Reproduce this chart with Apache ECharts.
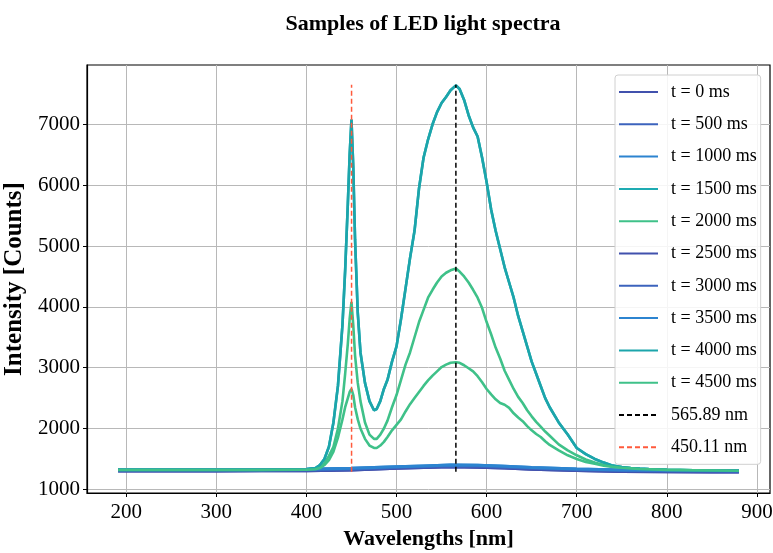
<!DOCTYPE html>
<html><head><meta charset="utf-8">
<script src="https://cdn.jsdelivr.net/npm/echarts@6/dist/echarts.min.js"></script>
<style>html,body{margin:0;padding:0;background:#fff}#c{width:773px;height:553px}</style>
</head><body><div id="c"></div>
<script>
// Wavelength grid (nm) for the emission curves
const wavelengths = [191,200,250,300,350,400,410,415,420,425,
  430,435,440,443,446,448,450,452,454,457,
  460,465,470,475,478,482,486,490,495,500,
  505,510,515,520,525,530,535,540,545,550,
  555,560,566,570,575,580,585,590,595,600,
  605,610,615,620,625,630,635,640,645,650,
  655,660,665,670,680,690,700,710,720,730,
  740,750,760,770,780,800,830,860,880];
// Strong (teal) spectrum
const tealPeak = [1320,1320,1320,1320,1320,1330,1350,1400,1500,1700,
  2100,2700,3700,4600,5700,6500,7080,6300,5100,3900,
  3250,2750,2450,2300,2320,2450,2650,2800,3100,3350,
  3800,4300,4800,5250,5950,6450,6750,7000,7200,7350,
  7450,7560,7640,7580,7400,7150,6950,6800,6450,6050,
  5600,5250,4950,4650,4400,4150,3850,3600,3350,3100,
  2900,2700,2500,2350,2100,1900,1680,1580,1500,1440,
  1390,1365,1350,1340,1332,1322,1315,1310,1305];
// Medium (green) spectrum
const greenMid = [1320,1320,1320,1320,1320,1325,1340,1370,1430,1550,
  1700,2000,2450,2900,3400,3800,4080,3700,3200,2750,
  2450,2100,1900,1830,1830,1900,2000,2130,2350,2550,
  2800,3050,3250,3500,3750,3950,4150,4280,4400,4500,
  4560,4600,4630,4580,4500,4400,4280,4150,3980,3750,
  3550,3330,3150,2950,2800,2650,2520,2420,2300,2200,
  2110,2030,1950,1880,1740,1640,1560,1490,1440,1400,
  1380,1360,1345,1335,1330,1320,1315,1310,1305];
// Weak (green) spectrum
const greenLow = [1320,1320,1320,1320,1320,1322,1330,1350,1400,1480,
  1620,1850,2150,2350,2500,2600,2650,2550,2350,2150,
  2000,1830,1720,1680,1680,1720,1780,1860,1970,2060,
  2150,2280,2400,2500,2600,2700,2790,2870,2940,3010,
  3050,3080,3090,3080,3040,2990,2940,2860,2760,2650,
  2560,2480,2420,2390,2340,2250,2180,2120,2040,1970,
  1910,1860,1790,1730,1640,1560,1500,1450,1420,1390,
  1370,1355,1345,1335,1330,1320,1315,1310,1305];
// Dark (blue) spectra
const blueWl = [191,250,300,350,400,450,500,530,560,590,620,650,700,750,800,850,880];
const blueA = [1300,1300,1300,1305,1305,1320,1345,1360,1370,1365,1350,1330,1310,1295,1290,1285,1285];
const blueB = [1312,1312,1312,1315,1318,1332,1358,1372,1385,1380,1365,1345,1322,1308,1302,1298,1298];
const blueC = [1325,1325,1325,1328,1330,1345,1370,1385,1400,1395,1380,1360,1335,1320,1312,1308,1305];

const seriesNames = ['t = 0 ms','t = 500 ms','t = 1000 ms','t = 1500 ms','t = 2000 ms',
  't = 2500 ms','t = 3000 ms','t = 3500 ms','t = 4000 ms','t = 4500 ms'];
const peakNames = ['565.89 nm','450.11 nm'];
const peakPositions = [565.89, 450.11];
const peakSpan = [1290, 7650];
const xTicks = [200,300,400,500,600,700,800,900];
const yTicks = [1000,2000,3000,4000,5000,6000,7000];

const colors = ['#4151ad','#3c63bd','#2c84d0','#1eabb2','#3fc189',
                '#4151ad','#3c63bd','#2c84d0','#1ca5ab','#3fc189'];
const seriesData = [
  [blueWl, blueA],[blueWl, blueB],[blueWl, blueC],[wavelengths, tealPeak],[wavelengths, greenMid],
  [blueWl, blueA],[blueWl, blueB],[blueWl, blueC],[wavelengths, tealPeak],[wavelengths, greenLow]
];
const FONT = 'Liberation Serif';

const series = seriesNames.map((n, i) => ({
  name: n, type: 'line', symbol: 'none', showSymbol: false,
  data: seriesData[i][0].map((w, k) => [w, seriesData[i][1][k]]),
  lineStyle: { color: colors[i], width: (i % 5 < 3) ? 3 : 2.6 },
  itemStyle: { color: colors[i] },
  z: 2
}));
const peakColors = ['#000000', '#ff5a3c'];
peakNames.forEach((n, i) => {
  series.push({
    name: n, type: 'line', symbol: 'none', showSymbol: false,
    data: peakSpan.map(v => [peakPositions[i], v]),
    lineStyle: { color: peakColors[i], width: 1.5, type: [5, 3] },
    itemStyle: { color: peakColors[i] },
    z: 3
  });
});

const chart = echarts.init(document.getElementById('c'), null, { renderer: 'canvas' });
chart.setOption({
  animation: false,
  backgroundColor: '#fff',
  title: {
    text: 'Samples of LED light spectra', left: 418, top: 8, textAlign: 'center',
    textStyle: { fontFamily: FONT, fontWeight: 'bold', fontSize: 22, color: '#000' }
  },
  grid: { left: 87, right: 3, top: 65, bottom: 60, containLabel: false, outerBoundsMode: 'none',
    show: true, borderColor: '#000', borderWidth: 1.2, backgroundColor: 'transparent' },
  legend: {
    data: seriesNames.concat(peakNames), orient: 'vertical', left: 615, top: 75,
    itemWidth: 39, itemHeight: 14, itemGap: 14.3,
    padding: [8, 4, 8, 3],
    itemStyle: { opacity: 0, borderWidth: 0 },
    backgroundColor: 'rgba(255,255,255,0.85)', borderColor: '#d0d0d0', borderWidth: 1, borderRadius: 3,
    textStyle: { fontFamily: FONT, fontSize: 18, color: '#000', padding: [0, 0, 0, 8] }
  },
  xAxis: {
    type: 'value', min: 156.5, max: 914.5,
    name: 'Wavelengths [nm]', nameLocation: 'middle', nameGap: 34,
    nameTextStyle: { fontFamily: FONT, fontWeight: 'bold', fontSize: 22, color: '#000' },
    axisLine: { show: true, lineStyle: { color: '#000', width: 1.2 } },
    axisTick: { show: true, customValues: xTicks, length: 4, lineStyle: { color: '#000' } },
    axisLabel: { customValues: xTicks, fontFamily: FONT, fontSize: 21, color: '#000', margin: 9,
      formatter: v => String(v) },
    splitLine: { show: true, lineStyle: { color: '#b8b8b8', width: 1 } }
  },
  yAxis: {
    type: 'value', min: 940, max: 7975,
    name: 'Intensity [Counts]', nameLocation: 'middle', nameGap: 56,
    nameTextStyle: { fontFamily: FONT, fontWeight: 'bold', fontSize: 25, color: '#000' },
    axisLine: { show: true, lineStyle: { color: '#000', width: 1.2 } },
    axisTick: { show: true, customValues: yTicks, length: 4, lineStyle: { color: '#000' } },
    axisLabel: { customValues: yTicks, fontFamily: FONT, fontSize: 21, color: '#000', margin: 7,
      formatter: v => String(v) },
    splitLine: { show: true, lineStyle: { color: '#b8b8b8', width: 1 } }
  },
  series: series
});
</script></body></html>
